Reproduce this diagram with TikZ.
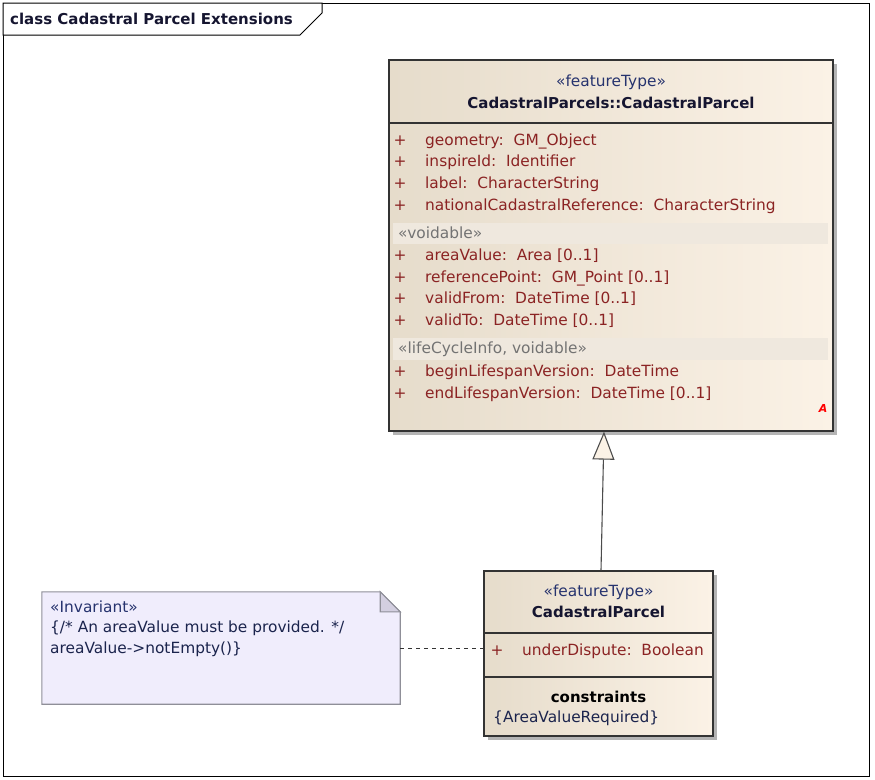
\documentclass[tikz,border=0pt]{standalone}
\usepackage{fontspec}
\setmainfont{DejaVu Sans}
\usetikzlibrary{arrows.meta,shadows}
\definecolor{classleft}{HTML}{E6DCCB}
\definecolor{classright}{HTML}{FBF2E6}
\definecolor{bandfill}{HTML}{EFE8DE}
\definecolor{attrred}{HTML}{8B2323}
\definecolor{stereoblue}{HTML}{26336E}
\definecolor{namedark}{HTML}{151530}
\definecolor{notefill}{HTML}{F0EDFC}
\definecolor{notefold}{HTML}{D3CFE0}
\definecolor{noteline}{HTML}{8F8F98}
\definecolor{shadowgray}{HTML}{B4B4B4}
\begin{document}
\begin{tikzpicture}[x=1pt,y=-1pt,
  every node/.style={font=\fontsize{15.4}{18}\selectfont, inner sep=0pt},
  classbox/.style={draw=black!80, line width=1.2pt, left color=classleft, right color=classright,
    general shadow={fill=shadowgray, shadow xshift=4pt, shadow yshift=-4pt}},
  sepline/.style={draw=black!80, line width=1.2pt},
  stereo/.style={text=stereoblue},
  cname/.style={font=\fontsize{15}{18}\selectfont\bfseries, text=namedark},
  attr/.style={text=attrred, anchor=west},
  band/.style={fill=bandfill},
  bandtext/.style={text=black!55, anchor=west},
  gen/.style={draw=black!70, line width=1.1pt, -{Triangle[width=22pt,length=28pt,fill=classright]}},
  notebox/.style={draw=noteline, line width=1.1pt, fill=notefill},
  notetext/.style={text=stereoblue!70!black, anchor=west}]
  \useasboundingbox (0,0) rectangle (875,779);
  \draw[line width=1pt] (3,3) rectangle (869,776);
  \draw[line width=1pt, fill=white] (3,3) -- (322,3) -- (322,13) -- (300,35) -- (3,35) -- cycle;
  \node[cname, anchor=west] (title) at (10,19) {class Cadastral Parcel Extensions};

  \node[classbox, minimum width=444pt, minimum height=371pt] (base) at (611,245.5) {};
  \fill[band] (393,223) rectangle (828,244);
  \fill[band] (393,338) rectangle (828,360);
  \draw[sepline] (base.west |- 0,123) -- (base.east |- 0,123);
  \node[stereo] (bst) at (base.north |- 0,82) {«featureType»};
  \node[cname] (bname) at (base.north |- 0,103) {CadastralParcels::CadastralParcel};
  \foreach \y/\txt [count=\i] in {141/{geometry:\ \ GM\_Object}, 162/{inspireId:\ \ Identifier},
      184/{label:\ \ CharacterString}, 206/{nationalCadastralReference:\ \ CharacterString},
      256/{areaValue:\ \ Area [0..1]}, 278/{referencePoint:\ \ GM\_Point [0..1]},
      299/{validFrom:\ \ DateTime [0..1]}, 321/{validTo:\ \ DateTime [0..1]},
      372/{beginLifespanVersion:\ \ DateTime}, 394/{endLifespanVersion:\ \ DateTime [0..1]}}
  {
    \node[attr, anchor=center] (p\i) at (400,\y) {+};
    \node[attr] (a\i) at (425,\y) {\txt};
  }
  \node[bandtext] (v1) at (398,233) {«voidable»};
  \node[bandtext] (v2) at (398,349) {«lifeCycleInfo, voidable»};
  \node[text=red, font=\fontsize{11}{11}\selectfont\bfseries\itshape] (abs) at (823,408) {A};

  \node[classbox, minimum width=229pt, minimum height=165pt] (sub) at (598.5,653.5) {};
  \draw[sepline] (sub.west |- 0,633) -- (sub.east |- 0,633);
  \draw[sepline] (sub.west |- 0,677) -- (sub.east |- 0,677);
  \node[stereo] (sst) at (sub.north |- 0,592) {«featureType»};
  \node[cname] (sname) at (sub.north |- 0,612) {CadastralParcel};
  \node[attr, anchor=center] (sp) at (497,651) {+};
  \node[attr] (sa) at (522,651) {underDispute:\ \ Boolean};
  \node[cname, text=black] (cons) at (sub.north |- 0,697) {constraints};
  \node[notetext] (cval) at (493,718) {\{AreaValueRequired\}};

  \node[minimum width=358pt, minimum height=112pt] (note) at (221,648) {};
  \draw[notebox] (note.north west) -- ([xshift=-20pt]note.north east) -- ([yshift=-20pt]note.north east)
    -- (note.south east) -- (note.south west) -- cycle;
  \draw[notebox, fill=notefold] ([xshift=-20pt]note.north east) -- ([yshift=-20pt]note.north east)
    -- ([xshift=-20pt,yshift=-20pt]note.north east) -- cycle;
  \node[notetext, text=stereoblue] (n1) at (50,607) {«Invariant»};
  \node[notetext] (n2) at (50,628) {\{/* An areaValue must be provided. */};
  \node[notetext] (n3) at (50,649) {areaValue->notEmpty()\}};

  \draw[dash pattern=on 4pt off 4pt, black!80, line width=1pt] (note.east) -- (note.east -| sub.west);
  \draw[gen] ([xshift=2.5pt]sub.north) -- ([xshift=-7pt]base.south);
\end{tikzpicture}
\end{document}
